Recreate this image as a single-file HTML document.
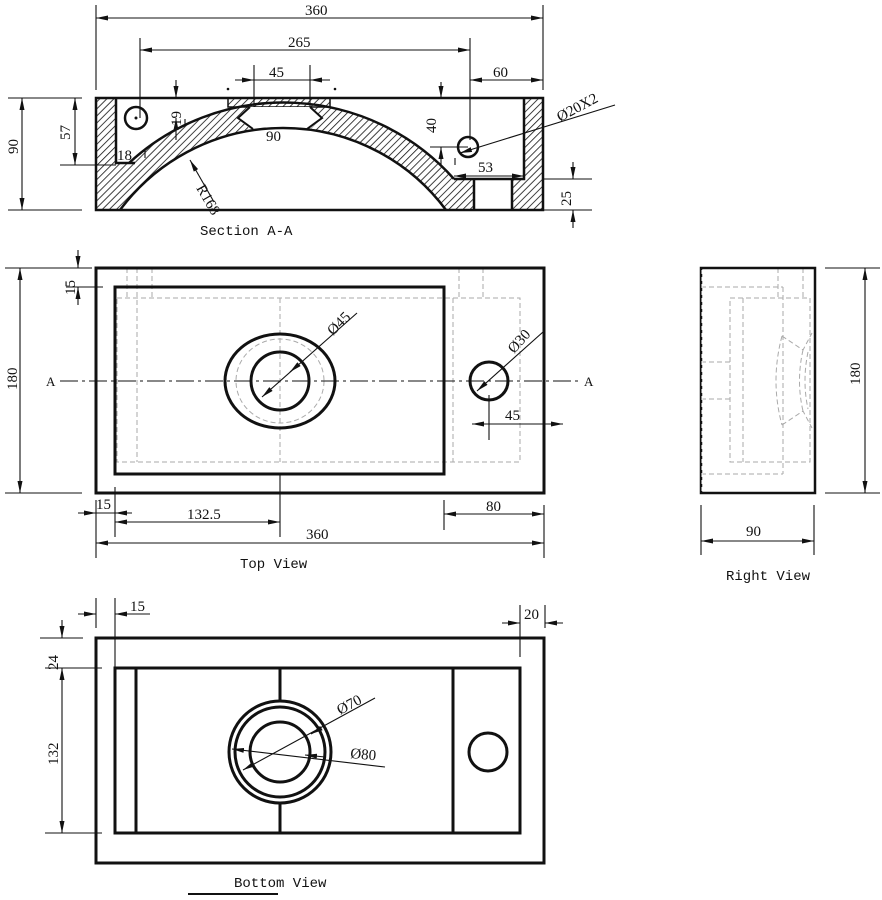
<!DOCTYPE html>
<html><head><meta charset="utf-8"><style>
html,body{margin:0;padding:0;background:#fff;}
svg{display:block;}
text{font-family:"Liberation Serif","DejaVu Serif",serif;font-size:15px;fill:#111;}
.t{font-family:"Liberation Mono",monospace;font-size:14px;}
</style></head><body>
<svg width="882" height="900" viewBox="0 0 882 900" xmlns="http://www.w3.org/2000/svg">
<defs>
<pattern id="h" patternUnits="userSpaceOnUse" width="5" height="5" patternTransform="rotate(45)">
<rect width="5" height="5" fill="#fff"/><line x1="0" y1="0" x2="0" y2="5" stroke="#111" stroke-width="1.6"/>
</pattern>
<marker id="a" viewBox="0 0 12 5" refX="12" refY="2.5" markerWidth="12" markerHeight="5" markerUnits="userSpaceOnUse" orient="auto-start-reverse"><path d="M0,0 L12,2.5 L0,5z" fill="#111"/></marker>
<clipPath id="sec"><rect x="96" y="98" width="447" height="112"/></clipPath>
</defs>

<!-- SECTION A-A -->
<rect x="96" y="98" width="447" height="112" fill="url(#h)"/>
<polygon points="116,98 524,98 524,179 300,179 300,163 116,163" fill="#fff"/>
<g clip-path="url(#sec)">
<circle cx="283" cy="331" r="228" fill="url(#h)"/>
<circle cx="283" cy="331" r="203" fill="#fff"/>
</g>
<rect x="96" y="98" width="447" height="5" fill="#fff"/>
<rect x="96" y="98" width="20" height="5" fill="url(#h)"/>
<rect x="524" y="98" width="19" height="5" fill="url(#h)"/>
<rect x="228" y="98" width="102" height="9" fill="url(#h)" stroke="#111" stroke-width="1.5"/>
<polygon points="250,107 310,107 322,118 310,129 250,129 238,118" fill="#fff"/>
<rect x="474" y="179" width="38" height="31" fill="#fff"/>
<g fill="none" stroke="#111" stroke-width="2.5">
<rect x="96" y="98" width="447" height="112"/>
<path d="M129,163 A228,228 0 0 1 454,179"/>
<path d="M120,210 A203,203 0 0 1 446,210"/>
<path d="M116,98 V163 H135"/>
<path d="M524,98 V179 H454"/>
<path d="M474,179 V210 M512,179 V210"/>
<path d="M250,107 L238,118 L253,129 M310,107 L322,118 L307,129" stroke-width="2"/>
<circle cx="136" cy="118" r="11"/>
<circle cx="468" cy="147" r="10"/>
</g>
<circle cx="136" cy="118" r="1.5" fill="#111"/>
<circle cx="228" cy="89" r="1.3" fill="#111"/>
<circle cx="335" cy="89" r="1.3" fill="#111"/>

<g stroke="#111" stroke-width="1.1" fill="none">
<!-- 360 -->
<line x1="96" y1="5" x2="96" y2="90"/><line x1="543" y1="5" x2="543" y2="90"/>
<line x1="96" y1="18" x2="543" y2="18" marker-start="url(#a)" marker-end="url(#a)"/>
<!-- 265 -->
<line x1="140" y1="38" x2="140" y2="118"/><line x1="470" y1="38" x2="470" y2="140"/>
<line x1="140" y1="50" x2="470" y2="50" marker-start="url(#a)" marker-end="url(#a)"/>
<!-- 45 -->
<line x1="254" y1="65" x2="254" y2="107"/><line x1="310" y1="65" x2="310" y2="107"/>
<line x1="235" y1="80" x2="254" y2="80" marker-end="url(#a)"/><line x1="330" y1="80" x2="310" y2="80" marker-end="url(#a)"/><line x1="254" y1="80" x2="310" y2="80"/>
<!-- 60 -->
<line x1="470" y1="80" x2="543" y2="80" marker-start="url(#a)" marker-end="url(#a)"/>
<!-- 90 left -->
<line x1="8" y1="98" x2="82" y2="98"/><line x1="8" y1="210" x2="82" y2="210"/>
<line x1="22" y1="98" x2="22" y2="210" marker-start="url(#a)" marker-end="url(#a)"/>
<!-- 57 -->
<line x1="60" y1="165" x2="116" y2="165"/>
<line x1="75" y1="98" x2="75" y2="165" marker-start="url(#a)" marker-end="url(#a)"/>
<!-- 19 -->
<line x1="176" y1="80" x2="176" y2="98" marker-end="url(#a)"/>
<line x1="176" y1="140" x2="176" y2="118" marker-end="url(#a)"/>
<line x1="185" y1="119" x2="185" y2="126"/>
<!-- 18 -->
<line x1="145" y1="150" x2="145" y2="158"/>
<!-- R168 -->
<line x1="214" y1="202" x2="190" y2="160" marker-end="url(#a)"/>
<!-- 40 -->
<line x1="441" y1="82" x2="441" y2="98" marker-end="url(#a)"/>
<line x1="441" y1="165" x2="441" y2="147" marker-end="url(#a)"/>
<line x1="430" y1="147" x2="468" y2="147"/>
<line x1="455" y1="158" x2="455" y2="165"/>
<!-- Ø20X2 -->
<line x1="460" y1="153" x2="615" y2="105"/>
<line x1="470" y1="150" x2="460" y2="153" marker-end="url(#a)"/>
<!-- 53 -->
<line x1="454" y1="176" x2="524" y2="176" marker-start="url(#a)" marker-end="url(#a)"/>
<!-- 25 -->
<line x1="543" y1="179" x2="592" y2="179"/><line x1="543" y1="210" x2="592" y2="210"/>
<line x1="573" y1="162" x2="573" y2="179" marker-end="url(#a)"/>
<line x1="573" y1="228" x2="573" y2="210" marker-end="url(#a)"/>
</g>
<text x="305" y="15">360</text>
<text x="288" y="47">265</text>
<text x="269" y="77">45</text>
<text x="493" y="77">60</text>
<text x="266" y="141">90</text>
<text x="117" y="160">18</text>
<text x="478" y="172">53</text>
<text transform="translate(18,154) rotate(-90)">90</text>
<text transform="translate(70,140) rotate(-90)">57</text>
<text transform="translate(181,126) rotate(-90)">19</text>
<text transform="translate(436,133) rotate(-90)">40</text>
<text transform="translate(571,206) rotate(-90)">25</text>
<text transform="translate(196,188) rotate(60)">R168</text>
<text transform="translate(560,122) rotate(-28)">Ø20X2</text>
<text class="t" x="200" y="235">Section A-A</text>

<!-- TOP VIEW -->
<g fill="none" stroke="#aaa" stroke-width="1" stroke-dasharray="5,3">
<rect x="117" y="298" width="403" height="164"/>
<line x1="137" y1="268" x2="137" y2="462"/>
<line x1="280" y1="298" x2="280" y2="462"/>
<line x1="453" y1="298" x2="453" y2="462"/>
<line x1="127" y1="268" x2="127" y2="298"/><line x1="152" y1="268" x2="152" y2="298"/>
<line x1="459" y1="268" x2="459" y2="298"/><line x1="483" y1="268" x2="483" y2="298"/>
<ellipse cx="280" cy="381" rx="44" ry="42"/>
</g>
<g fill="none" stroke="#111" stroke-width="3">
<rect x="96" y="268" width="448" height="225"/>
<rect x="115" y="287" width="329" height="187"/>
<ellipse cx="280" cy="381" rx="55" ry="47"/>
<circle cx="280" cy="381" r="29"/>
<circle cx="489" cy="381" r="19"/>
</g>
<g stroke="#111" stroke-width="1.1" fill="none">
<line x1="60" y1="381" x2="582" y2="381" stroke-dasharray="18,4,3,4"/>
<line x1="262" y1="397" x2="357" y2="313" marker-start="url(#a)"/>
<line x1="298" y1="365" x2="290" y2="372" marker-end="url(#a)"/>
<line x1="477" y1="391" x2="543" y2="332" marker-start="url(#a)"/>
<line x1="489" y1="395" x2="489" y2="440"/>
<line x1="472" y1="424" x2="563" y2="424" marker-start="url(#a)" marker-end="url(#a)"/>
<line x1="5" y1="268" x2="92" y2="268"/><line x1="5" y1="493" x2="82" y2="493"/>
<line x1="20" y1="268" x2="20" y2="493" marker-start="url(#a)" marker-end="url(#a)"/>
<line x1="66" y1="287" x2="103" y2="287"/>
<line x1="78" y1="250" x2="78" y2="268" marker-end="url(#a)"/>
<line x1="78" y1="305" x2="78" y2="287" marker-end="url(#a)"/>
<line x1="96" y1="500" x2="96" y2="558"/><line x1="115" y1="487" x2="115" y2="537"/>
<line x1="280" y1="474" x2="280" y2="537"/>
<line x1="444" y1="500" x2="444" y2="530"/><line x1="544" y1="505" x2="544" y2="558"/>
<line x1="78" y1="513" x2="96" y2="513" marker-end="url(#a)"/>
<line x1="132" y1="513" x2="115" y2="513" marker-end="url(#a)"/>
<line x1="96" y1="513" x2="115" y2="513"/>
<line x1="115" y1="522" x2="280" y2="522" marker-start="url(#a)" marker-end="url(#a)"/>
<line x1="444" y1="514" x2="544" y2="514" marker-start="url(#a)" marker-end="url(#a)"/>
<line x1="96" y1="543" x2="544" y2="543" marker-start="url(#a)" marker-end="url(#a)"/>
</g>
<text x="46" y="386" style="font-size:13px">A</text>
<text x="584" y="386" style="font-size:13px">A</text>
<text transform="translate(333,336) rotate(-45)">Ø45</text>
<text transform="translate(514,354) rotate(-48)">Ø30</text>
<text x="505" y="420">45</text>
<text transform="translate(17,390) rotate(-90)">180</text>
<text transform="translate(75,295) rotate(-90)">15</text>
<text x="96" y="509">15</text>
<text x="187" y="519">132.5</text>
<text x="486" y="511">80</text>
<text x="306" y="539">360</text>
<text class="t" x="240" y="568">Top View</text>

<!-- RIGHT VIEW -->
<g fill="none" stroke="#aaa" stroke-width="1" stroke-dasharray="5,3">
<rect x="730" y="298" width="80" height="164"/>
<line x1="743" y1="298" x2="743" y2="462"/>
<line x1="701" y1="287" x2="783" y2="287"/><line x1="701" y1="474" x2="783" y2="474"/>
<line x1="783" y1="287" x2="783" y2="474"/>
<line x1="778" y1="268" x2="778" y2="298"/><line x1="803" y1="268" x2="803" y2="298"/>
<line x1="701" y1="362" x2="730" y2="362"/><line x1="701" y1="399" x2="730" y2="399"/>
<path d="M782,336 Q770,381 782,425 M782,336 L803,350 L812,333 M782,425 L803,411 L812,428 M803,350 Q796,381 803,411 M808,352 Q802,381 808,409"/>
</g>
<rect x="701" y="268" width="114" height="225" fill="none" stroke="#111" stroke-width="2.5"/>
<line x1="702" y1="270" x2="702" y2="491" stroke="#fff" stroke-width="1" stroke-dasharray="4,3"/>
<g stroke="#111" stroke-width="1.1" fill="none">
<line x1="825" y1="268" x2="880" y2="268"/><line x1="825" y1="493" x2="880" y2="493"/>
<line x1="865" y1="268" x2="865" y2="493" marker-start="url(#a)" marker-end="url(#a)"/>
<line x1="701" y1="505" x2="701" y2="555"/><line x1="814" y1="505" x2="814" y2="555"/>
<line x1="701" y1="541" x2="814" y2="541" marker-start="url(#a)" marker-end="url(#a)"/>
</g>
<text transform="translate(860,385) rotate(-90)">180</text>
<text x="746" y="536">90</text>
<text class="t" x="726" y="580">Right View</text>

<!-- BOTTOM VIEW -->
<g fill="none" stroke="#111" stroke-width="3">
<rect x="96" y="638" width="448" height="225"/>
<rect x="115" y="668" width="405" height="165"/>
<line x1="136" y1="668" x2="136" y2="833"/>
<line x1="453" y1="668" x2="453" y2="833"/>
<line x1="280" y1="668" x2="280" y2="702"/><line x1="280" y1="802" x2="280" y2="833"/>
<circle cx="280" cy="752" r="51"/>
<circle cx="280" cy="752" r="45"/>
<circle cx="280" cy="752" r="30"/>
<circle cx="488" cy="752" r="19"/>
</g>
<g stroke="#111" stroke-width="1.1" fill="none">
<line x1="96" y1="598" x2="96" y2="628"/><line x1="115" y1="598" x2="115" y2="668"/>
<line x1="78" y1="614" x2="96" y2="614" marker-end="url(#a)"/>
<line x1="133" y1="614" x2="115" y2="614" marker-end="url(#a)"/>
<line x1="115" y1="614" x2="150" y2="614"/>
<line x1="520" y1="605" x2="520" y2="657"/><line x1="545" y1="605" x2="545" y2="628"/>
<line x1="502" y1="623" x2="520" y2="623" marker-end="url(#a)"/>
<line x1="563" y1="623" x2="545" y2="623" marker-end="url(#a)"/>
<line x1="40" y1="638" x2="83" y2="638"/><line x1="45" y1="668" x2="102" y2="668"/>
<line x1="45" y1="833" x2="102" y2="833"/>
<line x1="62" y1="620" x2="62" y2="638" marker-end="url(#a)"/>
<line x1="62" y1="668" x2="62" y2="833" marker-start="url(#a)" marker-end="url(#a)"/>
<line x1="243" y1="770" x2="375" y2="698" marker-start="url(#a)"/>
<line x1="318" y1="730" x2="311" y2="734" marker-end="url(#a)"/>
<line x1="232" y1="749" x2="385" y2="767" marker-start="url(#a)"/>
<line x1="305" y1="755" x2="325" y2="757" marker-start="url(#a)"/>
<line x1="188" y1="894" x2="278" y2="894" stroke-width="2"/>
</g>
<text x="130" y="611">15</text>
<text x="524" y="619">20</text>
<text transform="translate(58,670) rotate(-90)">24</text>
<text transform="translate(58,765) rotate(-90)">132</text>
<text transform="translate(340,715) rotate(-28)">Ø70</text>
<text transform="translate(350,758) rotate(5)">Ø80</text>
<text class="t" x="234" y="887">Bottom View</text>
</svg>
</body></html>
